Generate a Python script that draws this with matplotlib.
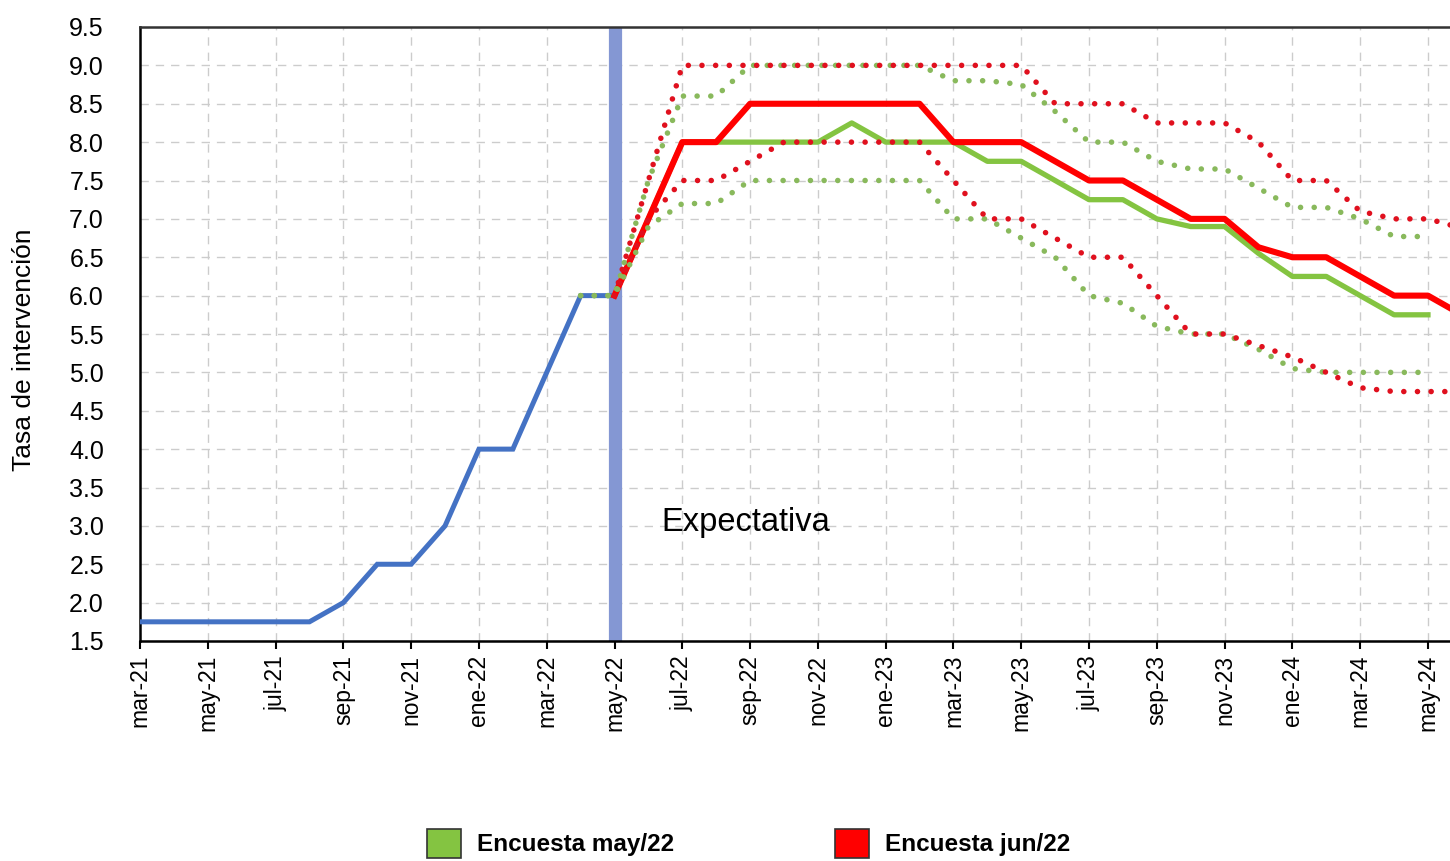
import numpy as np
import matplotlib
matplotlib.use("Agg")
import matplotlib.pyplot as plt
from matplotlib.patches import Patch

# ---------------- data ----------------
tick_labels = ["mar-21", "may-21", "jul-21", "sep-21", "nov-21", "ene-22", "mar-22",
               "may-22", "jul-22", "sep-22", "nov-22", "ene-23", "mar-23", "may-23",
               "jul-23", "sep-23", "nov-23", "ene-24", "mar-24", "may-24"]

# month index: 0 = mar-21
hist_start = 0
hist_values = [1.75, 1.75, 1.75, 1.75, 1.75, 1.75, 2.0, 2.5, 2.5, 3.0, 4.0, 4.0, 5.0, 6.0, 6.0]

jun_start = 14  # may-22
jun_mid = [6.0, 7.0, 8.0, 8.0, 8.5, 8.5, 8.5, 8.5, 8.5, 8.5, 8.0, 8.0, 8.0, 7.75, 7.5, 7.5,
           7.25, 7.0, 7.0, 6.63, 6.5, 6.5, 6.25, 6.0, 6.0, 5.75]
jun_high = [6.0, 7.5, 9.0, 9.0, 9.0, 9.0, 9.0, 9.0, 9.0, 9.0, 9.0, 9.0, 9.0, 8.5, 8.5, 8.5,
            8.25, 8.25, 8.25, 8.0, 7.5, 7.5, 7.1, 7.0, 7.0, 6.88]
jun_low = [6.0, 7.0, 7.5, 7.5, 7.75, 8.0, 8.0, 8.0, 8.0, 8.0, 7.5, 7.0, 7.0, 6.75, 6.5, 6.5,
           6.0, 5.5, 5.5, 5.35, 5.2, 5.0, 4.8, 4.75, 4.75, 4.75]

may_mid_start = 14
may_mid = [6.0, 7.0, 8.0, 8.0, 8.0, 8.0, 8.0, 8.25, 8.0, 8.0, 8.0, 7.75, 7.75, 7.5, 7.25,
           7.25, 7.0, 6.9, 6.9, 6.55, 6.25, 6.25, 6.0, 5.75, 5.75]
may_band_start = 13  # apr-22
may_high = [6.0, 6.0, 7.5, 8.6, 8.6, 9.0, 9.0, 9.0, 9.0, 9.0, 9.0, 8.8, 8.8, 8.75, 8.4, 8.0,
            8.0, 7.75, 7.65, 7.65, 7.4, 7.15, 7.15, 7.0, 6.77, 6.77]
may_low = [6.0, 6.0, 6.9, 7.2, 7.2, 7.5, 7.5, 7.5, 7.5, 7.5, 7.5, 7.0, 7.0, 6.75, 6.5, 6.0,
           5.9, 5.6, 5.5, 5.5, 5.3, 5.05, 5.0, 5.0, 5.0, 5.0]

expect_month = 14  # may-22 marker
legend_labels = ["Encuesta may/22", "Encuesta jun/22"]

# ---------------- style ----------------
BLUE = "#4472c4"
BAND = "#8497d3"
RED = "#ff0000"
RED_DOT = "#e0101e"
GREEN = "#84c441"
GREEN_DOT = "#89b95c"

plt.rcParams["font.family"] = ["Liberation Sans", "DejaVu Sans"]

W, H = 1450, 861
fig = plt.figure(figsize=(W / 100, H / 100), dpi=100)
ax = fig.add_axes([140 / W, 1 - 641 / H, 1 - 140 / W, (641 - 27) / H])


def months(start, vals):
    return np.arange(start, start + len(vals))


ax.axvline(expect_month, color=BAND, lw=9.5, zorder=1.5)

ax.plot(months(hist_start, hist_values), hist_values, color=BLUE, lw=3.6,
        solid_joinstyle="miter", zorder=3)
ax.plot(months(may_mid_start, may_mid), may_mid, color=GREEN, lw=3.8, zorder=4)
ax.plot(months(jun_start, jun_mid), jun_mid, color=RED, lw=4.4, zorder=5)

dot = dict(lw=4.0, dashes=(0.01, 2.45), dash_capstyle="round")
ax.plot(months(may_band_start, may_high), may_high, color=GREEN_DOT, zorder=6, **dot)
ax.plot(months(may_band_start, may_low), may_low, color=GREEN_DOT, zorder=6, **dot)
ax.plot(months(jun_start, jun_high), jun_high, color=RED_DOT, zorder=7, **dot)
ax.plot(months(jun_start, jun_low), jun_low, color=RED_DOT, zorder=7, **dot)

ax.text(15.37, 3.05, "Expectativa", fontsize=23.5, ha="left", va="center", zorder=8)

# axes
ax.set_xlim(0, 38.65)
ax.set_ylim(1.5, 9.5)
ax.set_xticks(np.arange(0, 2 * len(tick_labels), 2))
ax.set_xticklabels(tick_labels, rotation=90, fontsize=16.5)
yt = np.arange(1.5, 9.51, 0.5)
ax.set_yticks(yt)
ax.set_yticklabels([f"{v:.1f}" for v in yt], fontsize=18)
ax.tick_params(axis="x", direction="out", length=6, width=1.5, pad=4, colors="black")
ax.tick_params(axis="y", length=0, pad=26)
ax.set_ylabel("Tasa de intervención", fontsize=19)
ax.yaxis.set_label_coords(-104 / (W - 140), (641 - 350) / (641 - 27))

ax.grid(True, ls=(0, (6, 5)), color="#cccccc", lw=1.0, zorder=0)
ax.set_axisbelow(True)
ax.spines["right"].set_visible(False)
ax.spines["left"].set_linewidth(1.8)
ax.spines["bottom"].set_linewidth(1.8)
ax.spines["top"].set_linewidth(1.8)
ax.spines["top"].set_color("#333333")

# legend
handles = [Patch(facecolor=GREEN, edgecolor="#333333", lw=1.2),
           Patch(facecolor=RED, edgecolor="#333333", lw=1.2)]
fig.legend(handles, legend_labels, loc="upper left", bbox_to_anchor=(427 / W, 1 - 829 / H),
           ncol=2, frameon=False, borderpad=0, borderaxespad=0, handlelength=1.4,
           handleheight=1.45, handletextpad=0.66, columnspacing=6.6,
           prop={"family": "Liberation Sans", "weight": "bold", "size": 17.5})

fig.savefig("out.png", dpi=100)
